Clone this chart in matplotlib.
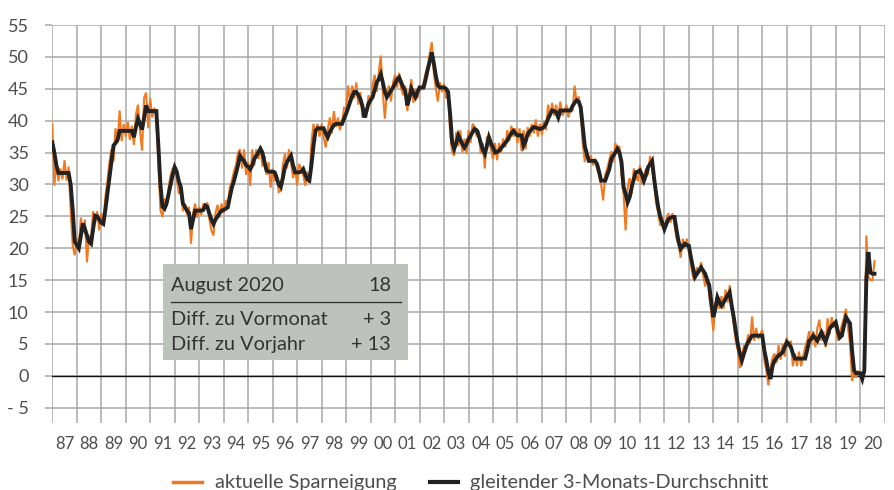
import matplotlib
matplotlib.use("Agg")
import matplotlib.pyplot as plt
import numpy as np
from matplotlib.lines import Line2D
from matplotlib.patches import Rectangle

# ---------------- data (monthly, Jan 1987 .. Aug 2020) ----------------
start_year = 1987
year_labels = ["87", "88", "89", "90", "91", "92", "93", "94", "95", "96", "97", "98",
               "99", "00", "01", "02", "03", "04", "05", "06", "07", "08", "09", "10",
               "11", "12", "13", "14", "15", "16", "17", "18", "19", "20"]

sparneigung = [
    39.5, 29.8, 33.7, 30.5, 32.5, 30.8, 33.8, 30.6, 32.8, 26.0, 20.5, 18.9,   # 1987
    21.5, 20.2, 24.8, 22.5, 24.5, 17.8, 22.0, 21.5, 25.8, 24.0, 25.8, 22.8,   # 1988
    25.5, 24.0, 28.0, 30.5, 33.5, 35.5, 33.6, 38.8, 36.5, 41.6, 36.8, 39.5,   # 1989
    37.5, 39.8, 37.0, 39.2, 36.2, 41.0, 42.5, 38.5, 35.3, 43.6, 44.4, 38.8,   # 1990
    43.5, 40.5, 42.0, 40.8, 33.0, 26.0, 24.9, 27.8, 26.5, 29.5, 31.5, 32.5,   # 1991
    33.0, 31.0, 28.5, 29.5, 25.8, 27.0, 25.2, 26.5, 20.7, 25.5, 27.0, 24.8,   # 1992
    26.5, 25.2, 27.0, 26.2, 27.2, 24.5, 22.8, 22.0, 25.5, 26.8, 24.8, 27.0,   # 1993
    25.5, 27.5, 27.0, 29.5, 30.5, 32.0, 33.0, 35.0, 35.5, 32.5, 35.5, 31.5,   # 1994
    33.5, 29.8, 35.5, 33.0, 35.5, 34.0, 36.0, 32.8, 34.5, 31.5, 33.5, 29.5,   # 1995
    32.5, 30.5, 31.5, 28.8, 29.0, 33.0, 34.8, 32.5, 35.5, 33.5, 31.0, 32.8,   # 1996
    29.8, 33.2, 32.5, 31.5, 29.8, 32.0, 30.2, 36.5, 39.5, 38.0, 39.5, 37.5,   # 1997
    39.5, 37.5, 35.8, 38.5, 40.5, 38.0, 41.5, 39.0, 40.5, 38.5, 39.8, 42.0,   # 1998
    41.8, 45.5, 42.8, 45.5, 43.5, 46.0, 42.5, 44.5, 40.5, 41.5, 40.5, 44.0,   # 1999
    42.5, 45.5, 47.2, 44.5, 47.5, 50.2, 44.5, 40.3, 44.5, 45.5, 43.0, 46.0,   # 2000
    47.2, 45.2, 47.5, 45.0, 44.0, 45.5, 41.5, 44.5, 46.5, 42.8, 45.0, 43.5,   # 2001
    45.5, 44.8, 46.0, 47.5, 48.5, 50.5, 52.3, 47.5, 45.0, 43.0, 46.0, 44.5,   # 2002
    45.8, 43.5, 44.2, 38.0, 35.0, 34.5, 38.2, 36.0, 38.5, 35.0, 37.2, 34.8,   # 2003
    38.5, 36.5, 39.5, 39.0, 37.5, 38.5, 34.8, 36.5, 32.5, 37.5, 36.8, 35.5,   # 2004
    34.0, 36.5, 33.8, 36.5, 35.0, 37.2, 35.8, 38.5, 36.8, 39.2, 37.5, 38.8,   # 2005
    36.5, 38.8, 35.2, 38.5, 35.5, 39.0, 37.5, 39.5, 38.0, 40.2, 37.5, 39.5,   # 2006
    37.8, 40.0, 38.5, 42.5, 40.5, 42.8, 40.8, 42.5, 40.2, 43.0, 40.8, 41.5,   # 2007
    42.5, 40.5, 42.0, 41.5, 45.5, 42.8, 43.8, 41.0, 36.5, 33.5, 35.5, 33.5,   # 2008
    34.5, 33.0, 34.0, 32.5, 31.5, 30.0, 27.5, 31.5, 32.5, 33.8, 35.2, 33.5,   # 2009
    36.5, 35.0, 36.0, 31.5, 28.5, 22.8, 29.5, 31.0, 28.5, 32.5, 31.5, 30.5,   # 2010
    33.0, 30.0, 31.2, 32.5, 31.5, 34.5, 32.5, 30.0, 27.0, 25.5, 23.5, 25.0,   # 2011
    22.5, 24.5, 25.5, 24.0, 25.5, 23.5, 21.5, 20.5, 18.5, 21.5, 20.0, 21.5,   # 2012
    19.5, 17.5, 15.5, 15.0, 17.0, 16.0, 17.8, 15.8, 14.0, 15.5, 12.5, 10.0,   # 2013
    7.0, 11.5, 12.5, 10.5, 12.5, 10.5, 13.5, 11.5, 14.2, 10.5, 8.0, 5.5,      # 2014
    4.0, 1.2, 3.0, 4.8, 4.0, 6.5, 5.0, 9.3, 5.5, 7.5, 5.8, 6.5,               # 2015
    7.2, 2.5, 0.8, -1.5, 1.2, 2.8, 3.5, 2.0, 4.8, 2.5, 5.0, 3.0,              # 2016
    6.0, 4.5, 5.5, 1.5, 3.5, 1.5, 3.8, 1.5, 3.0, 4.5, 5.5, 7.0,               # 2017
    5.0, 7.0, 4.5, 7.5, 8.8, 5.5, 7.0, 4.5, 9.0, 6.5, 9.2, 7.5,               # 2018
    8.5, 5.5, 6.5, 8.0, 9.0, 10.5, 7.5, 5.0, -0.8, 0.5, -0.3, 0.8,            # 2019
    0.2, -0.8, 0.5, 22.0, 15.5, 15.0, 15.0, 18.0,                            # 2020
]

durchschnitt = [
    36.6, 35.0, 33.0, 31.8, 31.8, 31.8, 31.8, 31.8, 31.8, 30.0, 26.0, 21.0,   # 1987
    20.5, 20.0, 22.0, 23.9, 23.0, 22.0, 21.0, 20.7, 23.0, 25.1, 25.0, 24.5,   # 1988
    24.0, 23.8, 26.0, 28.5, 31.0, 33.5, 36.1, 36.5, 37.0, 38.4, 38.4, 38.4,   # 1989
    38.4, 38.4, 38.4, 38.4, 37.4, 39.0, 40.3, 39.5, 38.6, 40.5, 42.4, 41.5,   # 1990
    41.5, 41.5, 41.5, 41.5, 36.0, 30.0, 26.5, 26.2, 27.0, 28.5, 30.0, 31.5,   # 1991
    32.7, 32.0, 30.5, 29.6, 27.0, 26.5, 25.9, 25.5, 23.0, 24.5, 25.9, 25.9,   # 1992
    25.9, 25.9, 26.0, 26.7, 26.5, 25.4, 24.5, 23.8, 24.5, 25.0, 25.5, 25.9,   # 1993
    26.0, 26.2, 26.4, 28.0, 29.5, 30.5, 31.7, 33.0, 34.5, 34.0, 33.7, 33.0,   # 1994
    32.8, 32.4, 33.0, 34.0, 34.5, 35.0, 35.6, 35.0, 33.5, 32.2, 32.0, 32.0,   # 1995
    32.0, 31.9, 31.0, 30.0, 29.6, 31.0, 32.7, 33.5, 34.0, 34.5, 33.0, 31.9,   # 1996
    31.9, 31.9, 32.0, 32.4, 31.5, 30.8, 30.6, 33.0, 36.0, 38.4, 38.8, 38.8,   # 1997
    38.8, 38.8, 38.0, 37.4, 38.2, 38.8, 39.3, 39.5, 39.5, 39.5, 39.5, 40.3,   # 1998
    41.1, 42.0, 43.0, 43.8, 44.5, 44.5, 44.0, 43.4, 42.3, 40.5, 41.5, 42.7,   # 1999
    43.2, 43.7, 44.8, 46.0, 46.5, 47.3, 46.0, 44.5, 43.7, 44.2, 44.7, 45.2,   # 2000
    45.8, 46.5, 46.8, 46.0, 45.2, 44.7, 42.4, 43.5, 45.0, 44.3, 43.7, 44.5,   # 2001
    45.2, 45.2, 45.2, 46.5, 48.0, 49.3, 50.7, 49.0, 47.0, 45.5, 45.2, 45.2,   # 2002
    45.2, 45.0, 44.5, 41.0, 36.6, 35.6, 36.5, 37.7, 37.0, 36.3, 35.8, 36.3,   # 2003
    37.1, 37.6, 38.2, 38.7, 38.5, 37.7, 36.5, 35.5, 34.8, 36.0, 37.4, 36.5,   # 2004
    35.8, 35.0, 35.1, 35.3, 35.7, 36.1, 36.5, 36.9, 37.5, 38.0, 38.4, 38.0,   # 2005
    37.7, 37.7, 37.7, 36.1, 36.8, 37.9, 38.3, 38.7, 39.0, 38.9, 38.8, 38.7,   # 2006
    38.8, 39.0, 39.5, 40.3, 41.0, 41.6, 41.5, 41.3, 40.5, 41.6, 41.6, 41.6,   # 2007
    41.6, 41.6, 41.6, 42.3, 42.8, 43.2, 43.0, 42.1, 39.0, 36.0, 34.8, 33.7,   # 2008
    33.7, 33.7, 33.7, 33.2, 32.0, 30.6, 30.6, 30.6, 31.5, 32.4, 34.0, 34.5,   # 2009
    35.0, 35.6, 35.0, 33.5, 29.6, 28.5, 27.2, 28.0, 29.6, 30.8, 31.9, 32.0,   # 2010
    32.2, 31.5, 30.6, 31.5, 32.7, 33.2, 33.7, 30.9, 28.5, 26.4, 24.9, 24.0,   # 2011
    23.0, 23.8, 24.6, 24.8, 24.9, 24.9, 22.8, 21.0, 19.9, 20.3, 20.7, 20.5,   # 2012
    20.4, 18.6, 17.0, 15.5, 16.0, 16.5, 17.0, 16.5, 16.0, 15.0, 14.2, 11.5,   # 2013
    9.2, 10.5, 12.3, 11.5, 11.0, 11.5, 12.1, 12.6, 13.1, 11.0, 9.2, 7.0,      # 2014
    5.0, 3.5, 2.4, 3.5, 4.5, 5.3, 5.8, 6.3, 6.3, 6.3, 6.3, 6.3,               # 2015
    6.3, 4.0, 2.4, 0.5, -0.5, 1.5, 2.4, 2.8, 3.2, 3.4, 3.7, 4.5,              # 2016
    5.3, 5.0, 4.5, 3.5, 2.7, 2.7, 2.7, 2.7, 2.7, 2.7, 4.0, 5.5,               # 2017
    5.8, 6.3, 5.9, 5.5, 6.2, 6.8, 6.0, 5.3, 6.3, 7.4, 7.8, 8.1,               # 2018
    8.4, 7.0, 6.0, 6.3, 7.8, 9.2, 8.7, 8.2, 4.0, 0.8, 0.4, 0.4,               # 2019
    0.4, -0.5, 0.8, 15.2, 19.4, 16.2, 16.0, 16.0,                            # 2020
]

box_rows = [("August 2020", "18"), ("Diff. zu Vormonat", "+ 3"), ("Diff. zu Vorjahr", "+ 13")]
legend_labels = ["aktuelle Sparneigung", "gleitender 3-Monats-Durchschnitt"]

# ---------------- styling ----------------
plt.rcParams['font.family'] = ['Lato', 'DejaVu Sans']
TXT = "#4d4d4d"
GRID = "#a8a8a8"
ORANGE = "#f07a22"
BLACK = "#222222"

fig = plt.figure(figsize=(8.95, 4.90), dpi=100)
ax = fig.add_axes([52.3 / 895, 1 - 423 / 490, (884.7 - 52.3) / 895, (423 - 25) / 490])

months = np.arange(len(sparneigung))
x = start_year + months / 12.0

ax.plot(x, sparneigung, color=ORANGE, lw=1.5, zorder=3, solid_joinstyle='miter')
ax.plot(x, durchschnitt, color=BLACK, lw=2.8, zorder=4, solid_joinstyle='miter')

n_years = len(year_labels)
ax.set_xlim(start_year, start_year + n_years)
ax.set_ylim(-7.4, 55)

ax.set_xticks(np.arange(start_year, start_year + n_years + 1))
ax.set_xticklabels([])
ax.set_xticks(np.arange(start_year, start_year + n_years) + 0.5, minor=True)
ax.set_xticklabels(year_labels, minor=True)
ax.tick_params(axis='x', which='major', length=0)
ax.tick_params(axis='x', which='minor', length=0, pad=9, labelsize=12, labelcolor=TXT)

ax.set_yticks(np.arange(-5, 56, 5))
ax.set_yticklabels([("- 5" if v < 0 else str(v)) for v in range(-5, 56, 5)])
ax.tick_params(axis='y', length=5, width=1.1, color=GRID, pad=12, labelsize=13, labelcolor=TXT)

ax.grid(True, which='major', color=GRID, lw=1.1, zorder=1)
ax.set_axisbelow(True)
for s in ax.spines.values():
    s.set_visible(False)
ax.axhline(0, color="#111111", lw=1.0, zorder=2)

# info box
bx0, bx1 = 163.3 / 895, 407.7 / 895
by0, by1 = 1 - 359.5 / 490, 1 - 264 / 490
fig.add_artist(Rectangle((bx0, by0), bx1 - bx0, by1 - by0, transform=fig.transFigure,
                         facecolor="#bec2bd", edgecolor="none", zorder=5))
row_y = [285.5, 319, 344.5]
for (lt, rt), yy in zip(box_rows, row_y):
    fig.text(171.5 / 895, 1 - yy / 490, lt, ha='left', va='center', fontsize=14.3,
             color="#333333", zorder=6)
    fig.text(391 / 895, 1 - yy / 490, rt, ha='right', va='center', fontsize=14.3,
             color="#333333", zorder=6)
fig.add_artist(Line2D([171 / 895, 401 / 895], [1 - 301.5 / 490] * 2, transform=fig.transFigure,
                      color="#333333", lw=1.0, zorder=6))

# legend (manual placement)
leg_y = 1 - 482 / 490
fig.add_artist(Line2D([173 / 895, 202 / 895], [leg_y, leg_y], transform=fig.transFigure,
                      color=ORANGE, lw=2.5))
fig.add_artist(Line2D([430 / 895, 458 / 895], [leg_y, leg_y], transform=fig.transFigure,
                      color=BLACK, lw=3.0))
fig.text(215 / 895, leg_y, legend_labels[0], ha='left', va='center', fontsize=14.3, color=TXT)
fig.text(470 / 895, leg_y, legend_labels[1], ha='left', va='center', fontsize=14.3, color=TXT)

fig.savefig("out.png", dpi=100)
